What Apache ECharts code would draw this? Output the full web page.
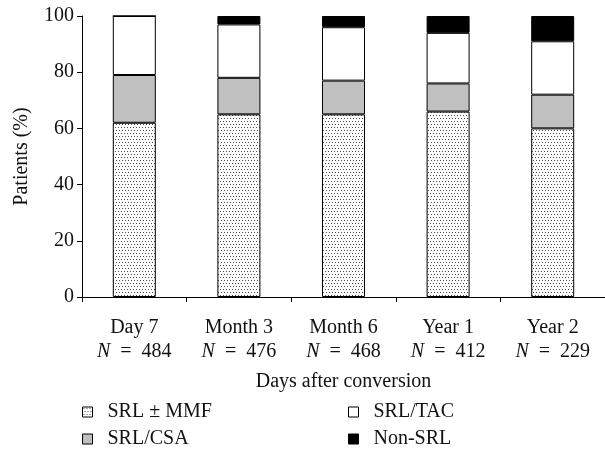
<!DOCTYPE html>
<html>
<head>
<meta charset="utf-8">
<script src="https://cdn.jsdelivr.net/npm/echarts@6/dist/echarts.min.js"></script>
<style>html,body{margin:0;padding:0;background:#fff}#c{width:605px;height:453px}</style>
</head>
<body>
<div id="c"></div>
<script>
var categories = ['Day 7', 'Month 3', 'Month 6', 'Year 1', 'Year 2'];
var sampleSizes = ['484', '476', '468', '412', '229'];
var srlMmf = [62, 65, 65, 66, 60];
var srlCsa = [17, 13, 12, 10, 12];
var srlTac = [21, 19, 19, 18, 19];
var nonSrl = [0, 3, 4, 6, 9];
var seriesNames = ['SRL \u00b1 MMF', 'SRL/CSA', 'SRL/TAC', 'Non-SRL'];
var yTicks = [0, 20, 40, 60, 80, 100];

var FONT = '"Liberation Serif", "DejaVu Serif", serif';
var FS = 20;

function makeDots() {
  var c = document.createElement('canvas');
  c.width = 6; c.height = 6;
  var ctx = c.getContext('2d');
  ctx.fillStyle = '#ffffff';
  ctx.fillRect(0, 0, 6, 6);
  ctx.fillStyle = '#4a4a4a';
  ctx.fillRect(1, 1, 1, 1);
  ctx.fillRect(4, 1, 1, 1);
  ctx.fillRect(2, 4, 1, 1);
  ctx.fillRect(5, 4, 1, 1);
  return c;
}
var dotPattern = { image: makeDots(), repeat: 'repeat' };

var colors = [dotPattern, '#c0c0c0', '#ffffff', '#000000'];
var dataSets = [srlMmf, srlCsa, srlTac, nonSrl];

var chart = echarts.init(document.getElementById('c'), null, { renderer: 'canvas' });

var series = seriesNames.map(function (name, i) {
  return {
    name: name,
    type: 'bar',
    stack: 'total',
    barWidth: 43,
    data: dataSets[i],
    itemStyle: { color: colors[i], borderColor: '#000', borderWidth: 1 },
    emphasis: { disabled: true },
    animation: false
  };
});

var legendCommon = {
  orient: 'vertical',
  icon: 'rect',
  itemWidth: 10,
  itemHeight: 10,
  itemGap: 5,
  height: 80,
  padding: 0,
  selectedMode: false,
  itemStyle: { borderColor: '#000', borderWidth: 1 },
  textStyle: { fontFamily: FONT, fontSize: FS, color: '#111', padding: [0, 0, 0, 10], lineHeight: 22 }
};

chart.setOption({
  animation: false,
  backgroundColor: '#fff',
  legend: [
    Object.assign({}, legendCommon, { left: 82, top: 401, data: [seriesNames[0], seriesNames[1]] }),
    Object.assign({}, legendCommon, { left: 348, top: 401, data: [seriesNames[2], seriesNames[3]] })
  ],
  grid: { left: 82, top: 16, width: 528, height: 281, containLabel: false },
  xAxis: {
    type: 'category',
    data: categories,
    boundaryGap: true,
    name: 'Days after conversion',
    nameLocation: 'middle',
    nameGap: 75,
    nameTextStyle: { fontFamily: FONT, fontSize: FS, color: '#111' },
    axisLine: { lineStyle: { color: '#000', width: 1 } },
    axisTick: { show: true, interval: 0, length: 5, lineStyle: { color: '#000' } },
    axisLabel: {
      interval: 0,
      margin: 19,
      color: '#111',
      fontFamily: FONT,
      fontSize: FS,
      formatter: function (v, idx) {
        return '{a|' + v + '}\n{n|N}{a|\u2002=\u2002' + sampleSizes[idx] + '}';
      },
      rich: {
        a: { fontFamily: FONT, fontSize: FS, color: '#111', lineHeight: 24 },
        n: { fontFamily: FONT, fontSize: FS, color: '#111', fontStyle: 'italic', lineHeight: 24 }
      }
    }
  },
  yAxis: {
    type: 'value',
    min: yTicks[0],
    max: yTicks[yTicks.length - 1],
    interval: 20,
    name: 'Patients (%)',
    nameLocation: 'middle',
    nameGap: 50,
    nameRotate: 90,
    nameTextStyle: { fontFamily: FONT, fontSize: FS, color: '#111' },
    axisLine: { show: true, lineStyle: { color: '#000', width: 1 } },
    axisTick: { show: true, length: 5, lineStyle: { color: '#000' } },
    splitLine: { show: false },
    axisLabel: { margin: 8, color: '#111', fontFamily: FONT, fontSize: FS }
  },
  series: series
});
</script>
</body>
</html>
